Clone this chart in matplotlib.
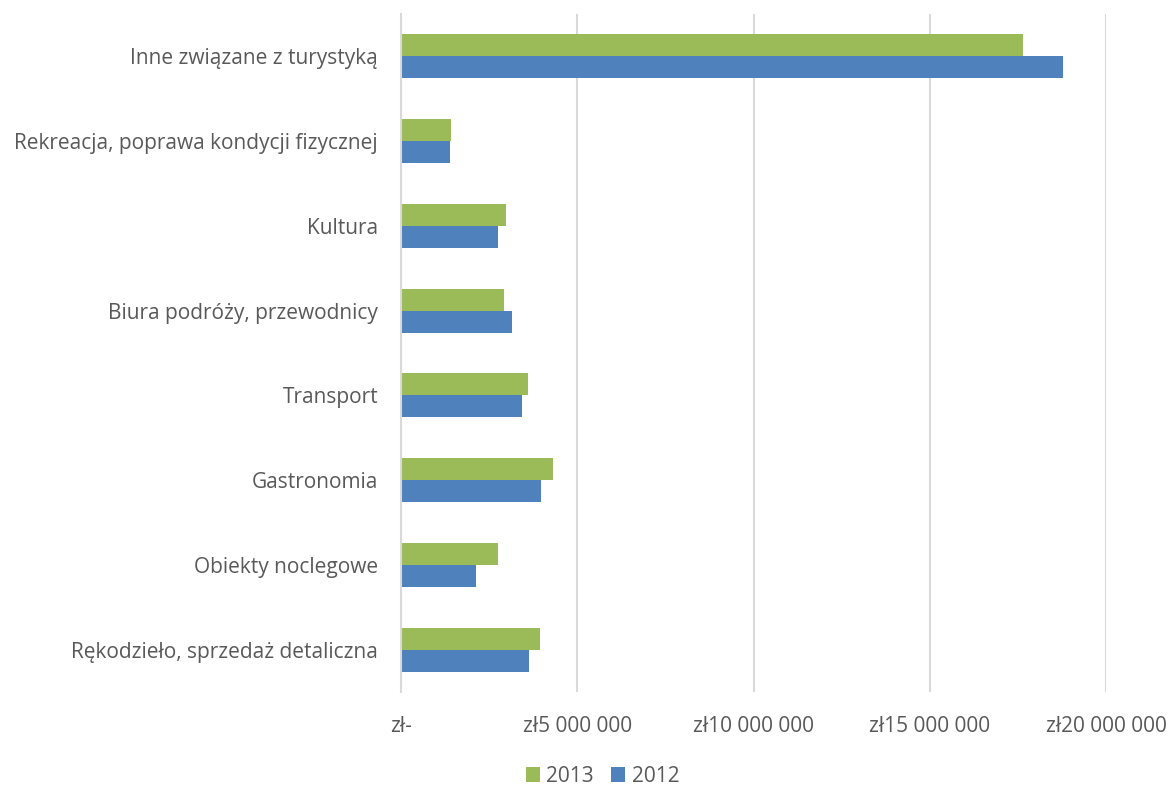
import matplotlib.pyplot as plt
import numpy as np

plt.rcParams['font.family'] = ['Open Sans', 'DejaVu Sans']

kategorie = ["Inne związane z turystyką",
             "Rekreacja, poprawa kondycji fizycznej",
             "Kultura",
             "Biura podróży, przewodnicy",
             "Transport",
             "Gastronomia",
             "Obiekty noclegowe",
             "Rękodzieło, sprzedaż detaliczna"]

# wartosci w zl
wart2013 = [17.64e6, 1.42e6, 2.98e6, 2.92e6, 3.60e6, 4.31e6, 2.75e6, 3.94e6]
wart2012 = [18.77e6, 1.39e6, 2.75e6, 3.15e6, 3.43e6, 3.97e6, 2.13e6, 3.63e6]

xticks = [0, 5e6, 10e6, 15e6, 20e6]
xlabels = ["zł-", "zł5 000 000", "zł10 000 000", "zł15 000 000", "zł20 000 000"]

kolor2013 = "#9BBB59"
kolor2012 = "#4F81BD"
tekst = "#595959"

fig = plt.figure(figsize=(11.72, 7.87), dpi=100)
ax = fig.add_axes([401/1172, 1-692/787, (1106-401)/1172, (692-14)/787])

y = np.arange(len(kategorie))
h = 0.26
ax.barh(y - h/2, wart2013, height=h, color=kolor2013, label="2013")
ax.barh(y + h/2, wart2012, height=h, color=kolor2012, label="2012")

ax.set_ylim(len(kategorie) - 0.5, -0.5)
ax.set_xlim(0, 20e6)
ax.set_yticks(y)
ax.set_yticklabels(kategorie, fontsize=15, color=tekst)
ax.set_xticks(xticks)
ax.set_xticklabels(xlabels, fontsize=15, color=tekst)
ax.tick_params(axis='both', length=0)
ax.tick_params(axis='x', pad=17)
ax.tick_params(axis='y', pad=16.5)

ax.grid(axis='x', color="#D9D9D9", linewidth=1.5)
ax.set_axisbelow(True)
for s in ["top", "right", "bottom"]:
    ax.spines[s].set_visible(False)
ax.spines["left"].set_color("#D9D9D9")
ax.spines["left"].set_linewidth(1.5)

fig.legend(loc="center", bbox_to_anchor=(0.514, 1-776/787), ncol=2, frameon=False,
           fontsize=15, handlelength=0.7, handleheight=0.7, columnspacing=0.8,
           handletextpad=0.3, labelcolor=tekst)

fig.savefig("out.png", dpi=100)
